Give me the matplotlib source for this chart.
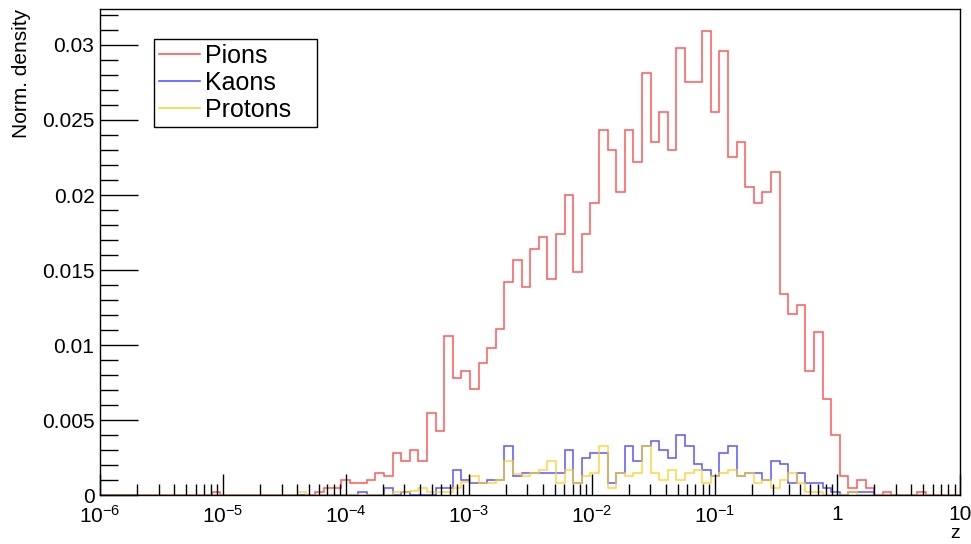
import numpy as np
import matplotlib
matplotlib.use("Agg")
import matplotlib.pyplot as plt
from matplotlib.ticker import FixedLocator, FixedFormatter, MultipleLocator

plt.rcParams['font.family'] = ['Liberation Sans', 'DejaVu Sans']
plt.rcParams['mathtext.fontset'] = 'custom'
plt.rcParams['mathtext.rm'] = 'Liberation Sans'
plt.rcParams['mathtext.default'] = 'regular'

## 100 log bins in z from 1e-6 to 10
n_bins = 100
z_min_exp, z_max_exp = -6, 1

pions = [
    0, 0, 0, 0, 0, 0, 0, 0, 0, 0,
    0, 0, 0, 0.0002, 0, 0, 0, 0, 0, 0,
    0, 0, 0, 0, 0, 0.0002, 0.0005, 0.0005, 0.0010, 0.0008,
    0.0008, 0.0010, 0.0015, 0.0013, 0.0028, 0.0023, 0.0030, 0.0023, 0.0055, 0.0043,
    0.0106, 0.0078, 0.0083, 0.0071, 0.0088, 0.0098, 0.0111, 0.0142, 0.0157, 0.0139,
    0.0164, 0.0172, 0.0144, 0.0174, 0.0200, 0.0149, 0.0174, 0.0195, 0.0243, 0.0230,
    0.0202, 0.0243, 0.0222, 0.0281, 0.0235, 0.0255, 0.0230, 0.0298, 0.0275, 0.0275,
    0.0309, 0.0255, 0.0296, 0.0225, 0.0235, 0.0205, 0.0195, 0.0202, 0.0215, 0.0134,
    0.0121, 0.0127, 0.0083, 0.0109, 0.0064, 0.0040, 0.0013, 0.0005, 0.0010, 0.0005,
    0, 0.0002, 0, 0, 0, 0.0002, 0, 0, 0, 0,
]

kaons = [
    0, 0, 0, 0, 0, 0, 0, 0, 0, 0,
    0, 0, 0, 0, 0, 0, 0, 0, 0, 0,
    0, 0, 0, 0, 0, 0, 0, 0, 0, 0,
    0.0002, 0, 0, 0.0005, 0, 0.0002, 0, 0, 0, 0.0005,
    0.0005, 0.0017, 0.0010, 0.0008, 0.0008, 0.0010, 0.0010, 0.0033, 0.0013, 0.0015,
    0.0015, 0.0015, 0.0015, 0.0015, 0.0030, 0.0008, 0.0025, 0.0028, 0.0028, 0.0008,
    0.0015, 0.0033, 0.0023, 0.0033, 0.0036, 0.0030, 0.0025, 0.0040, 0.0033, 0.0021,
    0.0017, 0.0013, 0.0028, 0.0033, 0.0013, 0.0015, 0.0015, 0.0010, 0.0023, 0.0021,
    0.0008, 0.0015, 0.0008, 0.0008, 0.0005, 0.0002, 0, 0.0002, 0.0002, 0.0002,
    0, 0, 0, 0, 0, 0, 0, 0, 0, 0,
]

protons = [
    0, 0, 0, 0, 0, 0, 0, 0, 0, 0,
    0, 0, 0, 0, 0, 0, 0, 0, 0, 0,
    0, 0, 0, 0.0002, 0, 0, 0, 0, 0, 0,
    0, 0, 0, 0, 0.0002, 0.0002, 0.0003, 0.0005, 0.0002, 0.0002,
    0.0002, 0.0005, 0.0009, 0.0013, 0.0008, 0.0008, 0.0010, 0.0023, 0.0014, 0.0013,
    0.0015, 0.0017, 0.0023, 0.0008, 0.0017, 0.0008, 0.0013, 0.0015, 0.0033, 0.0005,
    0.0015, 0.0013, 0.0015, 0.0033, 0.0015, 0.0010, 0.0017, 0.0010, 0.0015, 0.0017,
    0.0008, 0.0013, 0.0015, 0.0017, 0.0013, 0.0015, 0.0008, 0.0010, 0.0005, 0.0010,
    0.0015, 0.0008, 0.0002, 0.0002, 0, 0, 0, 0.0002, 0, 0,
    0, 0, 0, 0, 0, 0, 0, 0, 0, 0,
]

labels = ['Pions', 'Kaons', 'Protons']
colors = ['#ff3b3b', '#3b3bff', '#ffcc22']

x_tick_exps = [-6, -5, -4, -3, -2, -1, 0, 1]
x_tick_labels = ['$10^{-6}$', '$10^{-5}$', '$10^{-4}$', '$10^{-3}$',
                 '$10^{-2}$', '$10^{-1}$', '1', '10']
y_ticks = [0, 0.005, 0.01, 0.015, 0.02, 0.025, 0.03]
y_tick_labels = ['0', '0.005', '0.01', '0.015', '0.02', '0.025', '0.03']

edges = np.logspace(z_min_exp, z_max_exp, n_bins + 1)

fig = plt.figure(figsize=(9.71, 5.44), dpi=100)
ax = fig.add_axes([0.103, 0.090, 0.886, 0.8935])

for vals, lab, col in zip([pions, kaons, protons], labels, colors):
    ax.stairs(vals, edges, color=col, lw=1.1, alpha=0.85, label=lab)

ax.set_xscale('log')
ax.set_xlim(10.0 ** z_min_exp, 10.0 ** z_max_exp)
ax.set_ylim(0, 0.0324)

ax.xaxis.set_major_locator(FixedLocator([10.0 ** e for e in x_tick_exps]))
ax.xaxis.set_major_formatter(FixedFormatter(x_tick_labels))
minor_x = [m * 10.0 ** e for e in range(z_min_exp, z_max_exp) for m in range(2, 10)]
ax.xaxis.set_minor_locator(FixedLocator(minor_x))
ax.xaxis.set_minor_formatter(FixedFormatter([''] * len(minor_x)))

ax.yaxis.set_major_locator(FixedLocator(y_ticks))
ax.yaxis.set_major_formatter(FixedFormatter(y_tick_labels))
ax.yaxis.set_minor_locator(MultipleLocator(0.001))

ax.tick_params(axis='x', which='major', direction='in', length=15, width=1,
               labelsize=15, pad=7, top=False)
ax.tick_params(axis='x', which='minor', direction='in', length=8, width=1, top=False)
ax.tick_params(axis='y', which='major', direction='in', length=27, width=1,
               labelsize=15, pad=4, right=False)
ax.tick_params(axis='y', which='minor', direction='in', length=13, width=1, right=False)
for sp in ax.spines.values():
    sp.set_linewidth(1)

ax.set_xlabel('z', fontsize=14, loc='right', labelpad=-1)
ax.set_ylabel('Norm. density', fontsize=15, loc='top', labelpad=8)

leg = ax.legend(loc='upper left', bbox_to_anchor=(0.0628, 0.938, 0.1895, 0.0),
                mode='expand', fontsize=18,
                frameon=True, fancybox=False, edgecolor='black', framealpha=1,
                handlelength=1.65, handletextpad=0.2, borderpad=0.2,
                labelspacing=0.12, borderaxespad=0)
leg.get_frame().set_linewidth(1)
for h in leg.get_lines():
    h.set_linewidth(1.2)

fig.savefig('out.png', dpi=100)
